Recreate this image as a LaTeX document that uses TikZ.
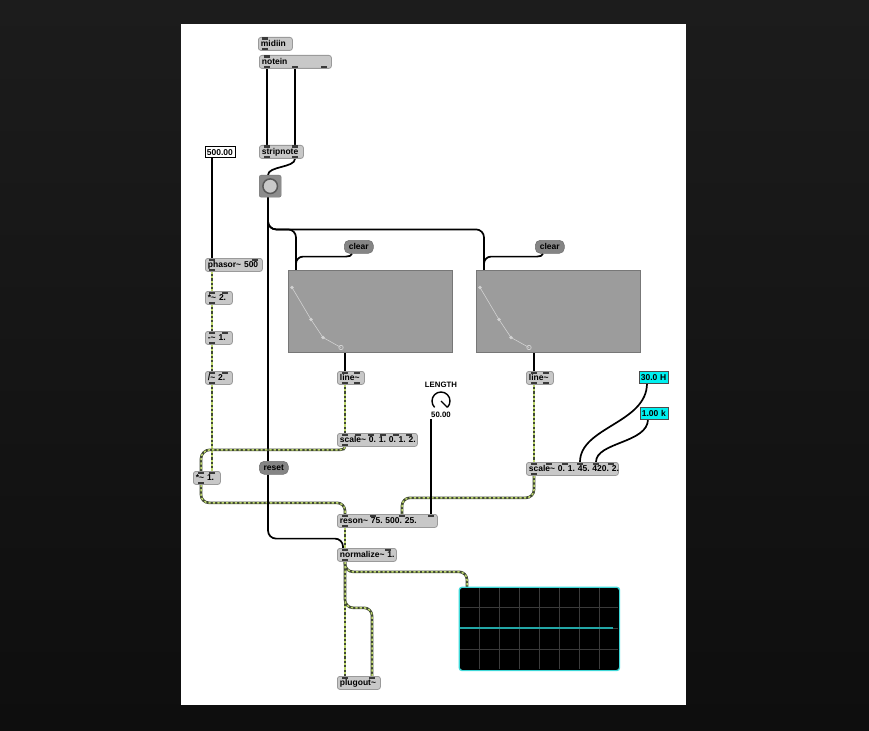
\documentclass[tikz,border=0pt]{standalone}
\usepackage{fontspec}
\setmainfont{Liberation Sans}
\definecolor{objfill}{HTML}{C8C8C8}
\definecolor{objborder}{HTML}{9A9A9A}
\definecolor{msgfill}{HTML}{858585}
\definecolor{portc}{HTML}{3A3A3A}
\definecolor{sigdark}{HTML}{404833}
\definecolor{siglight}{HTML}{BED86E}
\definecolor{funcfill}{HTML}{9C9C9C}
\definecolor{funcborder}{HTML}{777777}
\definecolor{funcpt}{HTML}{D2D2D2}
\definecolor{scopeborder}{HTML}{3FD8D8}
\definecolor{scopetrace}{HTML}{22A6A6}
\definecolor{scopegrid}{HTML}{3A3A3A}
\definecolor{numcyan}{HTML}{00F0F0}
\definecolor{bgtop}{HTML}{1C1C1C}
\definecolor{bgbot}{HTML}{0E0E0E}
\definecolor{bangfill}{HTML}{8C8C8C}
\definecolor{bangdot}{HTML}{C9C9C9}
\pgfdeclarelayer{bglayer}
\pgfdeclarelayer{cablelayer}
\pgfsetlayers{bglayer,cablelayer,main}
\newcommand\mxin[2]{\fill[port] ([xshift=#2pt]#1.north west) ++(-3,-0.5) rectangle ++(6,-2.3);}
\newcommand\mxout[2]{\fill[port] ([xshift=#2pt]#1.south west) ++(-3,0.5) rectangle ++(6,2.3);}
\tikzset{
  objtext/.style={font=\fontsize{8.5}{9}\selectfont\bfseries\frenchspacing},
  maxobj/.style={objtext, draw=objborder, fill=objfill, line width=0.8pt, rounded corners=2.5pt,
    anchor=north west, inner xsep=2.5pt, inner ysep=0pt, minimum height=13pt, align=left},
  maxmsg/.style={objtext, draw=msgfill!85!black, fill=msgfill, line width=0.6pt, rounded corners=5pt,
    anchor=north west, inner xsep=2.5pt, inner ysep=0pt, minimum height=13pt, align=center},
  maxnum/.style={objtext, draw=black, fill=white, line width=0.7pt,
    anchor=north west, inner xsep=1.5pt, inner ysep=0pt, minimum height=11.5pt, align=left},
  cyannum/.style={maxnum, fill=numcyan, draw=black!70},
  funcbox/.style={draw=funcborder, fill=funcfill, line width=0.8pt, anchor=north west,
    minimum width=164pt, minimum height=82pt, inner sep=0pt},
  port/.style={fill=portc},
  ctl/.style={draw=black, line width=1.7pt},
  sig/.style={draw=sigdark, line width=2.6pt,
    postaction={draw=siglight, line width=1.5pt, dash pattern=on 2.2pt off 2.2pt}},
}
\begin{document}
\begin{tikzpicture}[x=1pt,y=1pt]
\useasboundingbox (0,0) rectangle (869,-730);
\begin{pgfonlayer}{bglayer}
  \fill[top color=bgtop, bottom color=bgbot] (0,0) rectangle (869,-730);
  \fill[white] (181,-24) rectangle (686,-705);
\end{pgfonlayer}

% ---------- objects ----------
\node[maxobj, text width=29pt] (midiin) at (258,-37) {\mbox{midiin}};
\node[maxobj, text width=67pt] (notein) at (259,-55) {\mbox{notein}};
\node[maxobj, text width=39pt] (stripnote) at (259,-145) {\mbox{stripnote}};
\node[maxnum, text width=27pt] (num500) at (205,-146) {\mbox{500.00}};
\node[fill=bangfill, draw=bangfill!85!black, rounded corners=2pt, anchor=north west,
      minimum width=22pt, minimum height=22pt, inner sep=0pt] (bang) at (259,-175) {};
\draw[fill=bangdot, draw=black!65, line width=1.5pt] (bang.center) circle[radius=7.3];

\node[maxmsg, text width=24pt] (clearL) at (344,-240) {\mbox{clear}};
\node[maxmsg, text width=24pt] (clearR) at (535,-240) {\mbox{clear}};

\node[funcbox] (funcL) at (288,-270) {};
\node[funcbox] (funcR) at (476,-270) {};
\foreach \f in {funcL,funcR}{
  \draw[funcpt, line width=0.6pt] ([shift={(4,-17.5)}]\f.north west) -- ([shift={(23,-49.5)}]\f.north west)
     -- ([shift={(35,-67.5)}]\f.north west) -- ([shift={(53,-77.5)}]\f.north west);
  \fill[funcpt] ([shift={(4,-17.5)}]\f.north west) circle[radius=1.8];
  \fill[funcpt] ([shift={(23,-49.5)}]\f.north west) circle[radius=1.8];
  \fill[funcpt] ([shift={(35,-67.5)}]\f.north west) circle[radius=1.8];
  \draw[funcpt, line width=0.7pt] ([shift={(53,-77.5)}]\f.north west) circle[radius=2.2];
}

\node[maxobj, text width=52pt] (phasor) at (205,-258) {\mbox{phasor\textasciitilde{} 500}};
\node[maxobj, text width=22pt] (mul2) at (205,-291) {\mbox{*\textasciitilde{} 2.}};
\node[maxobj, text width=22pt] (sub1) at (205,-331) {\mbox{-\textasciitilde{} 1.}};
\node[maxobj, text width=22pt] (div2) at (205,-371) {\mbox{/\textasciitilde{} 2.}};
\node[maxobj, text width=22pt] (lineL) at (337,-371) {\mbox{line\textasciitilde}};
\node[maxobj, text width=22pt] (lineR) at (526,-371) {\mbox{line\textasciitilde}};

\node[objtext, font=\fontsize{7.8}{9}\selectfont\bfseries, inner sep=0pt] (lengthlbl) at (441,-385) {LENGTH};
\node[minimum size=20pt, inner sep=0pt] (dial) at (441,-401) {};
\draw[black, line width=1.4pt] ([shift={(225:9)}]dial.center) arc[start angle=225, end angle=-45, radius=9];
\draw[black, line width=1.4pt] (dial.center) -- ([shift={(-45:9)}]dial.center);
\node[objtext, font=\fontsize{7.8}{9}\selectfont\bfseries, inner sep=0pt] (lengthval) at (441,-414.5) {50.00};
\coordinate (dialout) at (431,-419);

\node[maxobj, text width=75pt] (scaleL) at (337,-433) {\mbox{scale\textasciitilde{} 0. 1. 0. 1. 2.}};
\node[cyannum, text width=26pt] (numH) at (639,-371) {\mbox{30.0 H}};
\node[cyannum, text width=25pt] (numK) at (640,-407) {\mbox{1.00 k}};
\node[maxobj, text width=87pt] (scaleR) at (526,-462) {\mbox{scale\textasciitilde{} 0. 1. 45. 420. 2.}};
\node[maxobj, text width=22pt] (mul1) at (193,-471) {\mbox{*\textasciitilde{} 1.}};
\node[maxmsg, text width=24pt] (reset) at (259,-461) {\mbox{reset}};
\node[maxobj, text width=95pt] (reson) at (337,-514) {\mbox{reson\textasciitilde{} 75. 500. 25.}};
\node[maxobj, text width=54pt] (normalize) at (337,-548) {\mbox{normalize\textasciitilde{} 1.}};
\node[maxobj, text width=38pt] (plugout) at (337,-676) {\mbox{plugout\textasciitilde}};

\node[fill=black, draw=scopeborder, line width=0.8pt, rounded corners=3pt, anchor=north west,
      minimum width=160pt, minimum height=83pt, inner sep=0pt] (scope) at (459,-587) {};
\foreach \i in {1,...,7}{
  \draw[scopegrid, line width=0.8pt] (459+\i*20,-588) -- (459+\i*20,-669);
}
\foreach \j in {1,2,3}{
  \draw[scopegrid, line width=0.8pt] (460,-587-\j*20.75) -- (618,-587-\j*20.75);
}
\draw[scopetrace, line width=1.3pt] (460,-628) -- (613,-628);
\draw[scopeborder, line width=0.8pt, rounded corners=3pt] (scope.north west) rectangle (scope.south east);

% ---------- ports ----------
\mxin{midiin}{7} \mxout{midiin}{7}
\mxin{notein}{8} \mxout{notein}{8} \mxout{notein}{36} \mxout{notein}{65}
\mxin{stripnote}{8} \mxin{stripnote}{36} \mxout{stripnote}{8} \mxout{stripnote}{36}
\mxin{phasor}{7} \mxin{phasor}{50} \mxout{phasor}{7}
\foreach \n in {mul2,sub1,div2}{ \mxin{\n}{7} \mxin{\n}{20} \mxout{\n}{7} }
\mxin{mul1}{8} \mxin{mul1}{19} \mxout{mul1}{8}
\foreach \n in {lineL,lineR}{ \mxin{\n}{8} \mxin{\n}{20} \mxout{\n}{8} \mxout{\n}{20} }
\foreach \o in {8,20.8,33.6,46.4,59.2,72}{ \mxin{scaleL}{\o} }
\mxout{scaleL}{8}
\foreach \o in {8,23,39,54,70,85}{ \mxin{scaleR}{\o} }
\mxout{scaleR}{8}
\foreach \o in {8,36,65,94}{ \mxin{reson}{\o} }
\mxout{reson}{8}
\mxin{normalize}{8} \mxin{normalize}{51} \mxout{normalize}{8}
\mxin{plugout}{8} \mxin{plugout}{35}

% ---------- cables ----------
\begin{pgfonlayer}{cablelayer}
  \draw[ctl] ([xshift=8pt]notein.south west) -- ([xshift=8pt]stripnote.north west);
  \draw[ctl] ([xshift=36pt]notein.south west) -- ([xshift=36pt]stripnote.north west);
  \draw[ctl] ([xshift=36pt]stripnote.south west) .. controls +(0,-9) and +(0,9) .. ([xshift=9pt]bang.north west);
  \draw[ctl, rounded corners=8pt] ([xshift=9pt]bang.south west) -- ++(0,-32) -| ([xshift=8pt]funcL.north west);
  \draw[ctl, rounded corners=8pt] ([xshift=9pt]bang.south west) -- ++(0,-32) -| ([xshift=8pt]funcR.north west);
  \draw[ctl] ([xshift=9pt]bang.south west) -- ([xshift=9pt]reset.north west);
  \draw[ctl] ([xshift=8pt]clearL.south west) .. controls +(0,-2) and +(3,0) .. ++(-6,-3)
     [rounded corners=7pt] -| ([xshift=8pt]funcL.north west);
  \draw[ctl] ([xshift=8pt]clearR.south west) .. controls +(0,-2) and +(3,0) .. ++(-6,-3)
     [rounded corners=7pt] -| ([xshift=8pt]funcR.north west);
  \draw[ctl] ([xshift=57pt]funcL.south west) -- ([xshift=8pt]lineL.north west);
  \draw[ctl] ([xshift=58pt]funcR.south west) -- ([xshift=8pt]lineR.north west);
  \draw[ctl] ([xshift=7pt]num500.south west) -- ([xshift=7pt]phasor.north west);
  \draw[sig] ([xshift=7pt]phasor.south west) -- ([xshift=7pt]mul2.north west);
  \draw[sig] ([xshift=7pt]mul2.south west) -- ([xshift=7pt]sub1.north west);
  \draw[sig] ([xshift=7pt]sub1.south west) -- ([xshift=7pt]div2.north west);
  \draw[sig] ([xshift=7pt]div2.south west) -- ([xshift=19pt]mul1.north west);
  \draw[sig] ([xshift=8pt]lineL.south west) -- ([xshift=8pt]scaleL.north west);
  \draw[sig] ([xshift=8pt]lineR.south west) -- ([xshift=8pt]scaleR.north west);
  \draw[sig] ([xshift=8pt]scaleL.south west) .. controls +(0,-2) and +(3,0) .. ++(-5,-3)
     [rounded corners=9pt] -| ([xshift=8pt]mul1.north west);
  \draw[sig, rounded corners=8pt] ([xshift=8pt]mul1.south west) -- ++(0,-18) -| ([xshift=8pt]reson.north west);
  \draw[sig, rounded corners=8pt] ([xshift=8pt]scaleR.south west) -- ++(0,-22) -| ([xshift=65pt]reson.north west);
  \draw[ctl] (dialout) -- ([xshift=94pt]reson.north west);
  \draw[ctl] ([xshift=8pt]numH.south west) .. controls +(0,-40) and +(0,35) .. ([xshift=54pt]scaleR.north west);
  \draw[ctl] ([xshift=8pt]numK.south west) .. controls +(0,-24) and +(0,20) .. ([xshift=70pt]scaleR.north west);
  \draw[sig] ([xshift=8pt]reson.south west) -- ([xshift=8pt]normalize.north west);
  \draw[ctl, rounded corners=8pt] ([xshift=9pt]reset.south west) -- ++(0,-64) -| ([xshift=6pt]normalize.north west);
  \draw[sig, rounded corners=8pt] ([xshift=8pt]normalize.south west) -- ++(0,-10) -| ([xshift=8pt]scope.north west);
  \draw[sig] ([xshift=8pt]normalize.south west) -- ([xshift=8pt]plugout.north west);
  \draw[sig, rounded corners=8pt] ([xshift=8pt]normalize.south west) -- ++(0,-46) -| ([xshift=35pt]plugout.north west);
\end{pgfonlayer}
\end{tikzpicture}
\end{document}
